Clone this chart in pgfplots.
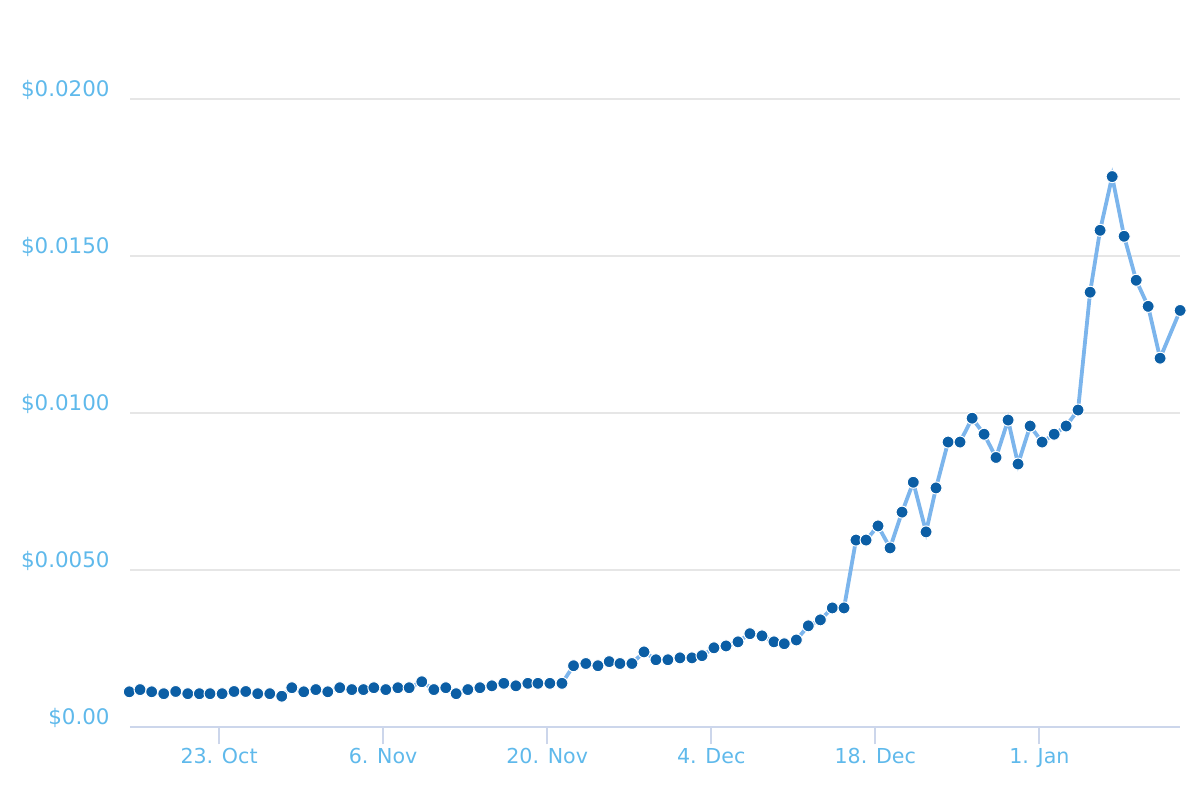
\documentclass[border=0pt]{standalone}
\usepackage{pgfplots}
\pgfplotsset{compat=1.18}
\usepackage{fontspec}
\setmainfont{DejaVu Sans}
\definecolor{lbl}{RGB}{95,185,235}
\definecolor{ln}{HTML}{7CB5EC}
\definecolor{mk}{RGB}{11,94,165}
\definecolor{axl}{HTML}{CCD6EB}
\definecolor{grd}{HTML}{E6E6E6}
\begin{document}
\begin{tikzpicture}
\useasboundingbox (0,0) rectangle (600pt,400pt);
\begin{axis}[
  at={(65pt,36.35pt)}, anchor=south west,
  scale only axis, width=525pt, height=314.15pt,
  xmin=-7.6, xmax=82.0, ymin=0, ymax=0.02,
  clip=false,
  axis x line*=bottom, axis y line*=left,
  x axis line style={draw=axl, line width=1pt, -},
  y axis line style={draw=none},
  xtick={0,14,28,42,56,70},
  xticklabels={23. Oct,6. Nov,20. Nov,4. Dec,18. Dec,1. Jan},
  tick align=outside, major tick length=8.5pt,
  xtick style={draw=axl, line width=1pt},
  ytick={0,0.005,0.01,0.015,0.02},
  yticklabels={\$0.00,\$0.0050,\$0.0100,\$0.0150,\$0.0200},
  scaled y ticks=false,
  ymajorgrids, y grid style={draw=grd, line width=1pt},
  ytick style={draw=none},
  xticklabel style={font=\fontsize{10.3}{12}\selectfont, text=lbl, anchor=base, inner sep=0pt, yshift=-9.5pt},
  yticklabel style={font=\fontsize{10.7}{12}\selectfont, text=lbl, anchor=base east, inner sep=0pt, xshift=-1.5pt, yshift=1.5pt},
]
\addplot[color=ln, line width=1.9pt, mark=*, mark size=3pt,
  mark options={fill=mk, draw=white, line width=0.5pt}] table {
x y
-7.66 0.00113
-6.74 0.00120
-5.75 0.00113
-4.72 0.00107
-3.70 0.00114
-2.67 0.00107
-1.68 0.00107
-0.77 0.00107
0.26 0.00107
1.28 0.00114
2.28 0.00114
3.30 0.00107
4.33 0.00107
5.35 0.00099
6.21 0.00126
7.23 0.00113
8.26 0.00120
9.28 0.00113
10.30 0.00126
11.33 0.00120
12.32 0.00120
13.21 0.00126
14.23 0.00120
15.26 0.00126
16.22 0.00126
17.30 0.00145
18.33 0.00120
19.35 0.00126
20.23 0.00107
21.23 0.00120
22.26 0.00126
23.28 0.00132
24.30 0.00140
25.33 0.00132
26.35 0.00140
27.21 0.00140
28.23 0.00140
29.26 0.00140
30.25 0.00196
31.30 0.00203
32.33 0.00196
33.29 0.00209
34.21 0.00203
35.23 0.00203
36.26 0.00240
37.28 0.00215
38.30 0.00215
39.33 0.00221
40.35 0.00221
41.21 0.00228
42.23 0.00253
43.26 0.00259
44.28 0.00272
45.30 0.00298
46.33 0.00291
47.35 0.00272
48.23 0.00266
49.26 0.00278
50.28 0.00323
51.31 0.00342
52.33 0.00380
53.33 0.00380
54.35 0.00596
55.21 0.00596
56.23 0.00641
57.26 0.00571
58.28 0.00685
59.24 0.00780
60.33 0.00622
61.18 0.00762
62.21 0.00908
63.23 0.00908
64.26 0.00984
65.28 0.00933
66.30 0.00859
67.33 0.00978
68.18 0.00838
69.21 0.00959
70.23 0.00908
71.26 0.00933
72.28 0.00959
73.30 0.01010
74.33 0.01385
75.18 0.01582
76.21 0.01753
77.23 0.01563
78.26 0.01423
79.28 0.01340
80.30 0.01175
82.01 0.01327
};
\end{axis}
\end{tikzpicture}
\end{document}
